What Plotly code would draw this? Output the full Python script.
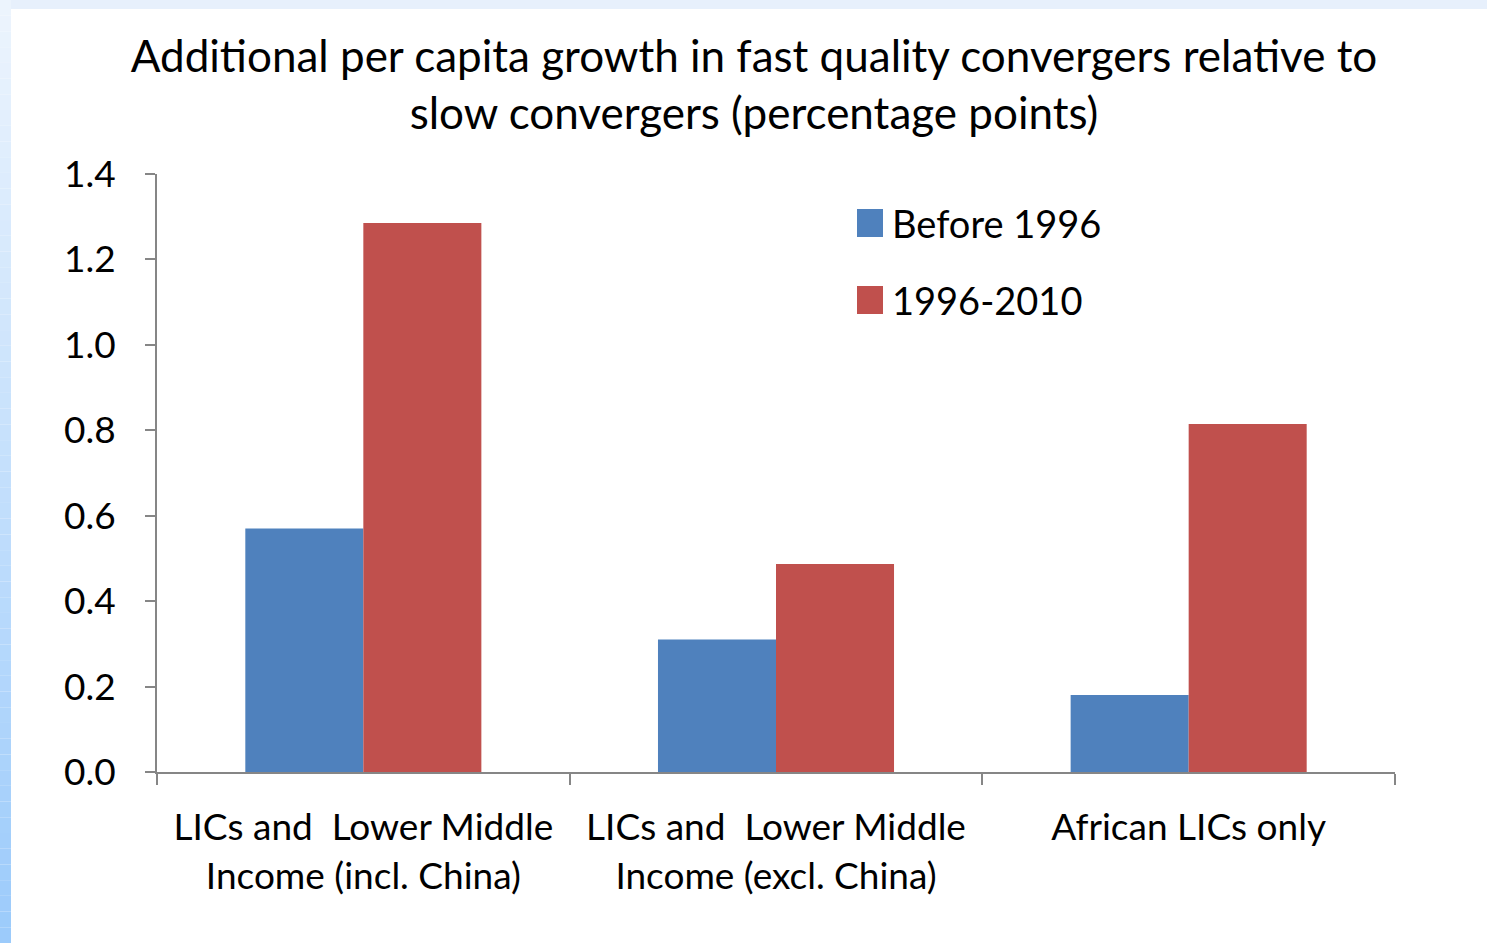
import plotly.graph_objects as go

# data
categories = [
    "LICs and  Lower Middle<br>Income (incl. China)",
    "LICs and  Lower Middle<br>Income (excl. China)",
    "African LICs only",
]
series_names = ["Before 1996", "1996-2010"]
before_1996 = [0.57, 0.31, 0.18]
period_1996_2010 = [1.285, 0.487, 0.815]
y_ticks = [0.0, 0.2, 0.4, 0.6, 0.8, 1.0, 1.2, 1.4]

COLOR_BLUE = "#4f81bd"
COLOR_RED = "#c0504d"
COLOR_AXIS = "#868686"
FONT = "Lato, 'Open Sans', sans-serif"

W, H = 1487, 943
L, R, T, B = 157, 92, 174, 171
PW, PH = W - L - R, H - T - B


def px_x(px):
    return (px - L) / PW


def px_y(py):
    return (H - B - py) / PH


fig = go.Figure()
for name, vals, color in [
    (series_names[0], before_1996, COLOR_BLUE),
    (series_names[1], period_1996_2010, COLOR_RED),
]:
    fig.add_trace(
        go.Bar(
            x=categories,
            y=vals,
            name=name,
            marker=dict(color=color, line=dict(width=0)),
            showlegend=False,
        )
    )

# slide frame: light top strip and blue gradient on the left
shapes = [
    dict(type="rect", xref="paper", yref="paper", x0=px_x(0), x1=px_x(W),
         y0=px_y(9), y1=px_y(0), fillcolor="#e7f0fc", line=dict(width=0), layer="below")
]
n_steps = 60
top_rgb, bot_rgb = (236, 244, 253), (156, 203, 251)
for i in range(n_steps):
    t = i / (n_steps - 1)
    c = tuple(round(a + (b - a) * t) for a, b in zip(top_rgb, bot_rgb))
    shapes.append(
        dict(type="rect", xref="paper", yref="paper", x0=px_x(0), x1=px_x(11),
             y0=px_y(H * (i + 1) / n_steps), y1=px_y(H * i / n_steps),
             fillcolor="rgb(%d,%d,%d)" % c, line=dict(width=0), layer="below")
    )

# legend drawn by hand so the swatches can be as large as in the original
annotations = []
for i, (name, color) in enumerate([(series_names[0], COLOR_BLUE), (series_names[1], COLOR_RED)]):
    cy = 223 + i * 77
    shapes.append(
        dict(type="rect", xref="paper", yref="paper", x0=px_x(857), x1=px_x(883),
             y0=px_y(cy + 14), y1=px_y(cy - 14), fillcolor=color, line=dict(width=0))
    )
    annotations.append(
        dict(text=name, xref="paper", yref="paper", x=px_x(890), y=px_y(cy),
             xanchor="left", yanchor="middle", showarrow=False,
             font=dict(size=38, color="black", family=FONT))
    )

fig.update_layout(
    width=W,
    height=H,
    autosize=False,
    margin=dict(l=L, r=R, t=T, b=B),
    paper_bgcolor="white",
    plot_bgcolor="white",
    barmode="group",
    bargap=0.428,
    bargroupgap=0,
    font=dict(family=FONT, color="black"),
    title=dict(
        text="Additional per capita growth in fast quality convergers relative to<br>slow convergers (percentage points)",
        xref="container", x=754 / W, xanchor="center",
        yref="container", y=1 - 72 / H, yanchor="top",
        font=dict(size=44, family=FONT, color="black"),
    ),
    shapes=shapes,
    annotations=annotations,
)
fig.update_xaxes(
    showline=True, linecolor=COLOR_AXIS, linewidth=2,
    ticks="outside", tickson="boundaries", ticklen=11, tickwidth=2, tickcolor=COLOR_AXIS,
    tickfont=dict(size=37, family=FONT, color="black"),
    ticklabelstandoff=22,
    showgrid=False,
)
fig.update_yaxes(
    range=[0, 1.4],
    tickvals=y_ticks,
    ticktext=["%.1f" % v for v in y_ticks],
    showline=True, linecolor=COLOR_AXIS, linewidth=2,
    ticks="outside", ticklen=10, tickwidth=2, tickcolor=COLOR_AXIS,
    tickfont=dict(size=37, family=FONT, color="black"),
    ticklabelstandoff=22,
    showgrid=False, zeroline=False,
)

# drop the page's default body margin so the figure sits at the window corner
fig.write_html(
    "out.html",
    config={"displayModeBar": False},
    post_script="document.body.style.margin='0';",
)
